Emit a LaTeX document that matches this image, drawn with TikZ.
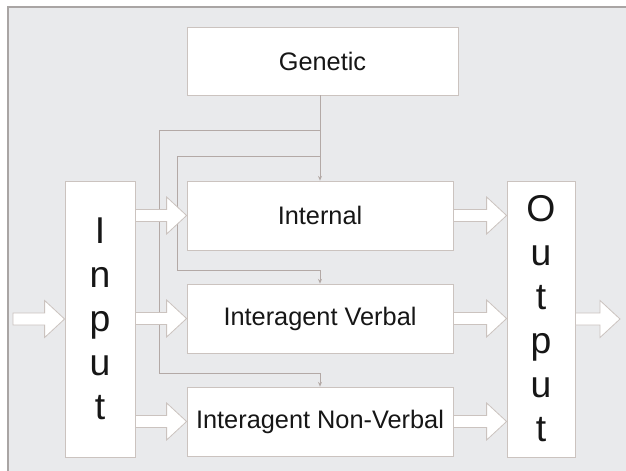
\documentclass[tikz,border=0pt]{standalone}
\usepackage{fontspec}
\setmainfont{Liberation Sans}
\usepackage{xcolor}
\usepackage{tikz}
\usetikzlibrary{arrows.meta,calc}

\definecolor{panel}{HTML}{E9EAEC}
\definecolor{rim}{HTML}{A9A5A4}
\definecolor{boxline}{HTML}{CBC3BF}
\definecolor{wire}{HTML}{B3A9A6}
\definecolor{ink}{HTML}{161616}

\begin{document}
\begin{tikzpicture}[x=0.75pt,y=-0.75pt,
  box/.style={draw=boxline,fill=white,line width=0.6pt,inner sep=0pt,text=ink,
    font=\fontsize{19}{23}\selectfont},
  tall/.style={box,minimum height=207pt,align=center,
    font=\fontsize{28}{33}\selectfont},
  link/.style={draw=wire,line width=0.6pt,-{Stealth[length=3.5pt,width=3pt]}},
  fat/.style={draw=boxline,fill=white,line width=0.6pt,to path={
    let \p1=(\tikztostart), \p2=(\tikztotarget) in
    (\x1,\y1+4.5pt) -- (\x2-15pt,\y1+4.5pt) -- (\x2-15pt,\y1+13.9pt) -- (\x2,\y1)
    -- (\x2-15pt,\y1-13.9pt) -- (\x2-15pt,\y1-4.5pt) -- (\x1,\y1-4.5pt) -- cycle}}]
  \useasboundingbox (0,0) rectangle (626,471);
  \fill[panel] (8,7) rectangle (626,471);
  \draw[rim,line width=0.8pt] (8,471) -- (8,7) -- (626,7);

  \node[box,minimum width=203.25pt,minimum height=51pt] (gen) at (322.5,61) {Genetic};
  \node[box,minimum width=199.5pt,minimum height=51.75pt] (int) at (320,215.5) {Internal};
  \node[box,minimum width=199.5pt,minimum height=51.75pt] (verb) at (320,318.5) {Interagent Verbal};
  \node[box,minimum width=199.5pt,minimum height=51.75pt] (nonv) at (320,421.5) {Interagent Non-Verbal};
  \node[tall,minimum width=52.5pt] (inp) at (100,319) {I\\n\\p\\u\\t};
  \node[tall,minimum width=51pt] (out) at (541,319) {O\\u\\t\\p\\u\\t};

  \coordinate (j1) at (320,130);
  \coordinate (j2) at (320,156);
  \coordinate (feed) at (13,319);
  \coordinate (drain) at (620,319);

  \draw[link] (gen.south -| int.north) -- (int.north);
  \draw[link] (j1) -| (159,373) -| (nonv.north);
  \draw[link] (j2) -| (177,270) -| (verb.north);

  \draw[fat] (feed) to (inp.west |- feed);
  \draw[fat] (inp.east |- int.west) to (int.west);
  \draw[fat] (inp.east |- verb.west) to (verb.west);
  \draw[fat] (inp.east |- nonv.west) to (nonv.west);
  \draw[fat] (int.east) to (out.west |- int.east);
  \draw[fat] (verb.east) to (out.west |- verb.east);
  \draw[fat] (nonv.east) to (out.west |- nonv.east);
  \draw[fat] (out.east |- drain) to (drain);
\end{tikzpicture}
\end{document}
